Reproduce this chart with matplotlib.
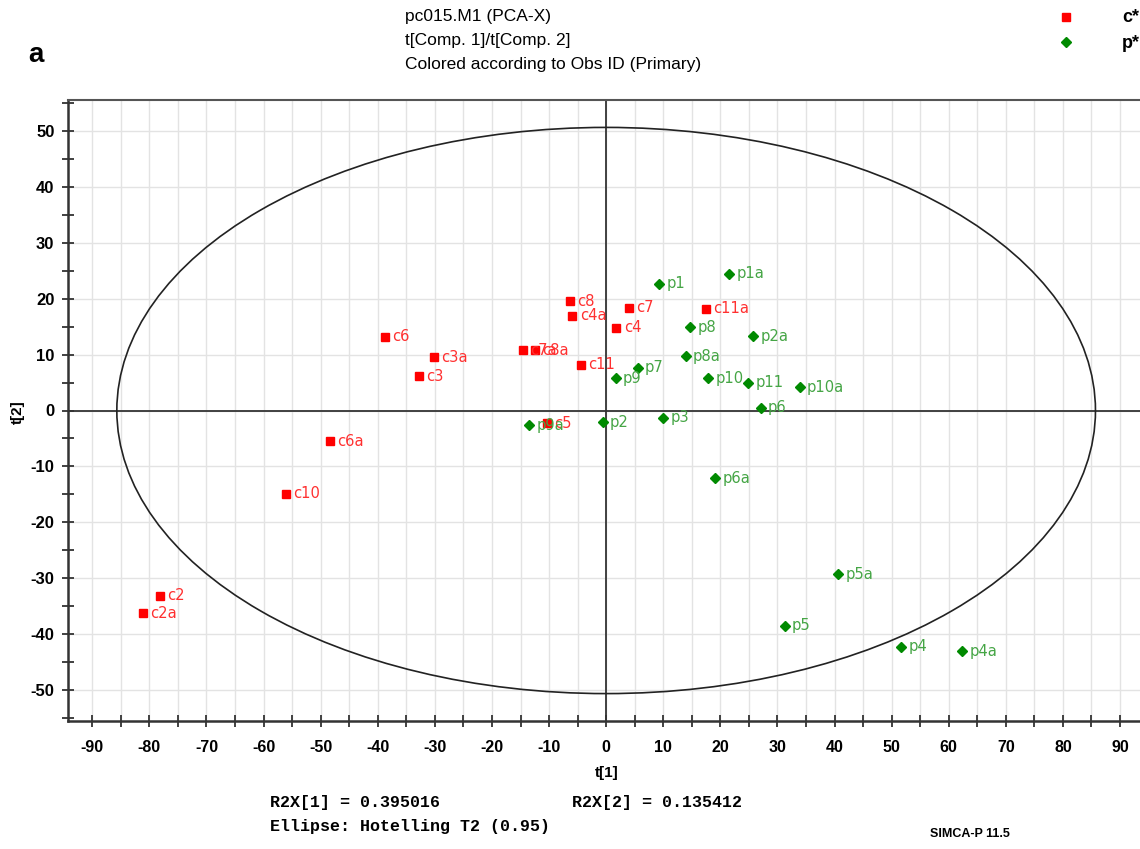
import matplotlib
matplotlib.use("Agg")
import matplotlib.pyplot as plt
from matplotlib.patches import Ellipse
from matplotlib.lines import Line2D
from matplotlib.ticker import MultipleLocator

plt.rcParams["axes.unicode_minus"] = False

# ---- data ----
c_labels = ["c8", "c4a", "c7", "c4", "c11a", "c11", "c7a", "c8a", "c5",
            "c6", "c3a", "c3", "c6a", "c10", "c2", "c2a"]
c_t1 = [-6.3, -5.9, 4.0, 1.8, 17.5, -4.4, -14.5, -12.4, -10.4,
        -38.7, -30.2, -32.8, -48.4, -56.1, -78.1, -81.1]
c_t2 = [19.5, 16.9, 18.4, 14.8, 18.2, 8.2, 10.8, 10.8, -2.3,
        13.2, 9.5, 6.1, -5.5, -14.9, -33.1, -36.2]

p_labels = ["p1", "p1a", "p8", "p2a", "p8a", "p10", "p11", "p10a", "p6",
            "p7", "p9", "p3", "p2", "p9a", "p6a", "p5a", "p5", "p4", "p4a"]
p_t1 = [9.3, 21.5, 14.7, 25.8, 13.9, 17.9, 24.9, 33.9, 27.1,
        5.5, 1.7, 10.0, -0.6, -13.5, 19.1, 40.6, 31.3, 51.7, 62.4]
p_t2 = [22.7, 24.4, 14.9, 13.3, 9.7, 5.8, 5.0, 4.2, 0.5,
        7.6, 5.8, -1.3, -2.1, -2.6, -12.1, -29.3, -38.5, -42.2, -43.0]

ellipse_a = 85.7
ellipse_b = 50.6
x_ticks = list(range(-90, 91, 10))
y_ticks = list(range(-50, 51, 10))

W, H = 1140, 849
fig = plt.figure(figsize=(W / 100, H / 100), dpi=100)
fig.patch.set_facecolor("white")

def fx(px):
    return px / W

def fy(py):
    return 1 - py / H

ax = fig.add_axes([fx(68.3), fy(721), fx(1144) - fx(68.3), fy(100) - fy(721)])
ax.set_xlim(-94.2, 94.2)
ax.set_ylim(-55.5, 55.5)

# grid
for gx in range(-90, 91, 5):
    ax.axvline(gx, color="#e3e3e3", lw=1.0, zorder=0)
for gy in y_ticks:
    ax.axhline(gy, color="#e3e3e3", lw=1.0, zorder=0)

ax.axhline(0, color="#333333", lw=1.3, zorder=1)
ax.axvline(0, color="#333333", lw=1.3, zorder=1)

ax.add_patch(Ellipse((0, 0), 2 * ellipse_a, 2 * ellipse_b, fill=False,
                     edgecolor="#222222", lw=1.2, zorder=2))

red_m = "#ff0000"
red_t = "#ff3030"
grn_m = "#008a00"
grn_t = "#45a545"

ax.plot(c_t1, c_t2, linestyle="none", marker="s", markersize=5.5,
        color=red_m, zorder=4)
ax.plot(p_t1, p_t2, linestyle="none", marker="D", markersize=5.0,
        color=grn_m, zorder=4)

for lab, x, y in zip(c_labels, c_t1, c_t2):
    ax.annotate(lab, (x, y), xytext=(5.2, 0), textcoords="offset points",
                va="center", ha="left", fontsize=10.6, color=red_t,
                family="DejaVu Sans", zorder=5)
for lab, x, y in zip(p_labels, p_t1, p_t2):
    ax.annotate(lab, (x, y), xytext=(5.2, 0), textcoords="offset points",
                va="center", ha="left", fontsize=10.6, color=grn_t,
                family="DejaVu Sans", zorder=5)

ax.set_xticks(x_ticks)
ax.set_yticks(y_ticks)
ax.xaxis.set_minor_locator(MultipleLocator(5))
ax.yaxis.set_minor_locator(MultipleLocator(5))
ax.tick_params(which="both", direction="inout", length=8, width=1.3,
               color="#333333", top=False, right=False)
ax.tick_params(axis="x", which="major", pad=10)
ax.tick_params(axis="y", which="major", pad=6)
for lbl in ax.get_xticklabels():
    lbl.set_fontfamily("Liberation Sans")
    lbl.set_fontweight("bold")
    lbl.set_fontsize(11.5)
for lbl in ax.get_yticklabels():
    lbl.set_fontfamily("Liberation Sans")
    lbl.set_fontweight("bold")
    lbl.set_fontsize(12)

for s in ["top", "right"]:
    ax.spines[s].set_visible(False)
for s in ["left", "bottom"]:
    ax.spines[s].set_color("#333333")
    ax.spines[s].set_linewidth(1.8)
# top border line
fig.add_artist(Line2D([fx(68.3), 1.0], [fy(100), fy(100)], color="#555555",
                      lw=1.5, transform=fig.transFigure))

# titles
title_kw = dict(fontsize=12.5, family="Liberation Sans", ha="left", va="center")
fig.text(fx(405), fy(17), "pc015.M1 (PCA-X)", **title_kw)
fig.text(fx(405), fy(40), "t[Comp. 1]/t[Comp. 2]", **title_kw)
fig.text(fx(405), fy(64), "Colored according to Obs ID (Primary)", **title_kw)
fig.text(fx(28), fy(55), "a", fontsize=20, fontweight="bold",
         family="Liberation Sans", ha="left", va="center")

# legend
fig.add_artist(Line2D([fx(1066)], [fy(17)], marker="s", markersize=5.5,
                      color=red_m, linestyle="none", transform=fig.transFigure))
fig.add_artist(Line2D([fx(1066)], [fy(42)], marker="D", markersize=5.0,
                      color=grn_m, linestyle="none", transform=fig.transFigure))
fig.text(fx(1122), fy(18), "c*", fontsize=13, fontweight="bold",
         family="Liberation Sans", ha="left", va="center")
fig.text(fx(1122), fy(43), "p*", fontsize=13, fontweight="bold",
         family="Liberation Sans", ha="left", va="center")

# axis labels
fig.text(fx(607), fy(773), "t[1]", fontsize=11, fontweight="bold",
         family="Liberation Sans", ha="center", va="center")
fig.text(fx(18), fy(412), "t[2]", fontsize=11, fontweight="bold",
         family="Liberation Sans", ha="center", va="center", rotation=90)

# footer
mono = dict(fontsize=12, fontweight="bold", family="Liberation Mono",
            ha="left", va="center")
fig.text(fx(270), fy(803), "R2X[1] = 0.395016", **mono)
fig.text(fx(572), fy(803), "R2X[2] = 0.135412", **mono)
fig.text(fx(270), fy(827), "Ellipse: Hotelling T2 (0.95)", **mono)
fig.text(fx(930), fy(834), "SIMCA-P 11.5", fontsize=9, fontweight="bold",
         family="Liberation Sans", ha="left", va="center")

fig.savefig("out.png", dpi=100, facecolor="white")
